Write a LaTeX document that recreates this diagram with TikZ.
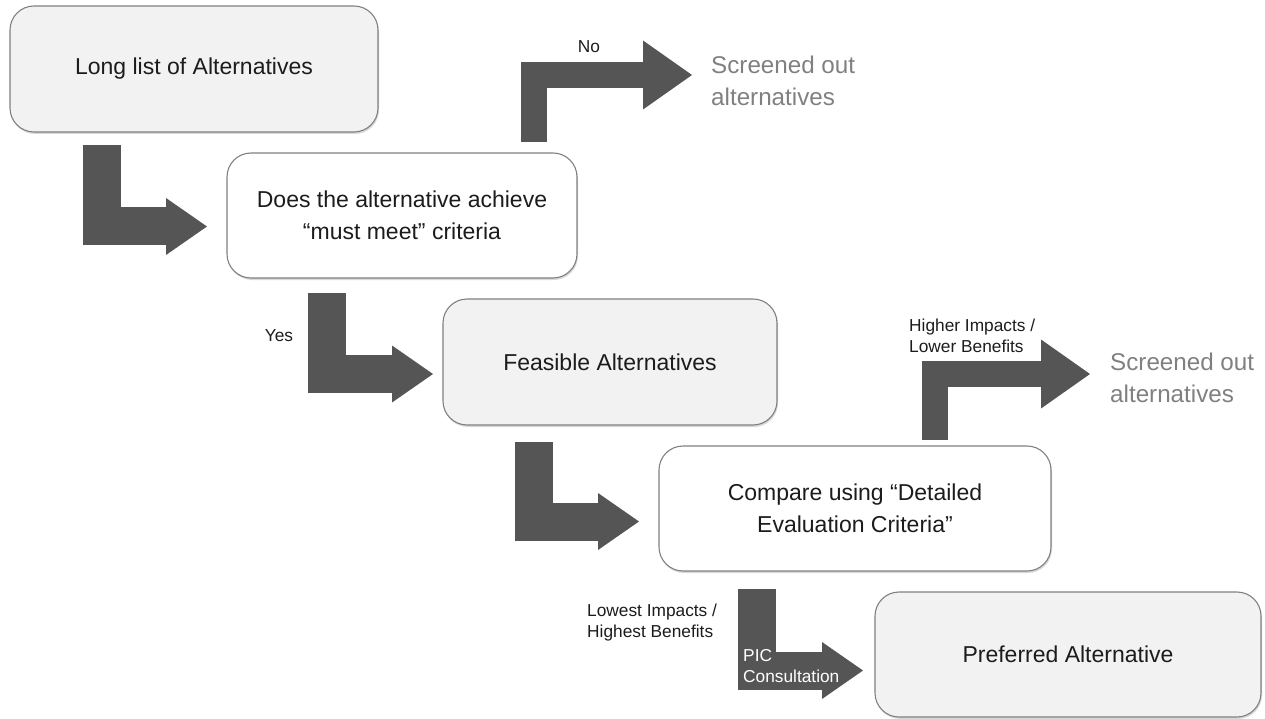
\documentclass[tikz,border=0pt]{standalone}
\usepackage{fontspec}
\setmainfont{Liberation Sans}
\usetikzlibrary{arrows.meta,shadows}

\definecolor{arrowgray}{RGB}{85,85,85}
\definecolor{boxline}{RGB}{128,128,128}
\definecolor{boxfill}{RGB}{242,242,242}
\definecolor{boxtext}{RGB}{28,28,28}
\definecolor{outtext}{RGB}{128,128,128}

\begin{document}
\begin{tikzpicture}[x=1pt,y=-1pt,
  stepbox/.style={draw=boxline, line width=1.1pt, rounded corners=24pt,
    align=center, text=boxtext, inner sep=0pt,
    font=\fontsize{23}{32}\selectfont,
    drop shadow={shadow xshift=1pt, shadow yshift=-2pt, opacity=0.3}},
  greybox/.style={stepbox, fill=boxfill},
  whitebox/.style={stepbox, fill=white},
  bigarrow/.style={draw=arrowgray, line width=38pt, line join=miter,
    -{Triangle[length=41pt, width=57pt, line width=0pt, fill=arrowgray]}},
  outarrow/.style={draw=arrowgray, line width=26pt, line join=miter,
    -{Triangle[length=49pt, width=69pt, line width=0pt, fill=arrowgray]}},
  smalllabel/.style={inner sep=0pt, text=boxtext, align=left,
    font=\fontsize{17.3}{21}\selectfont},
  outlabel/.style={inner sep=0pt, text=outtext, align=left, anchor=west,
    font=\fontsize{24.2}{32}\selectfont}]

\useasboundingbox (0,0) rectangle (1265,719);

% process boxes
\node[greybox,  minimum width=368pt, minimum height=126pt] (longlist)  at (194,69)    {Long list of Alternatives};
\node[whitebox, minimum width=350pt, minimum height=125pt] (mustmeet)  at (402,215.5) {Does the alternative achieve\\“must meet” criteria};
\node[greybox,  minimum width=334pt, minimum height=126pt] (feasible)  at (610,362)   {Feasible Alternatives};
\node[whitebox, minimum width=392pt, minimum height=125pt] (compare)   at (855,508.5) {Compare using “Detailed\\Evaluation Criteria”};
\node[greybox,  minimum width=386pt, minimum height=125pt] (preferred) at (1068,654.5) {Preferred Alternative};

% outcome texts
\node[outlabel] (out1) at (711,81)    {Screened out\\alternatives};
\node[outlabel] (out2) at (1110,377.5) {Screened out\\alternatives};

% arrow end points
\coordinate (a1s) at (101.5,145);  \coordinate (a1e) at (207,226.5);
\coordinate (a2s) at (327,293);    \coordinate (a2e) at (433,374);
\coordinate (a3s) at (534,442);    \coordinate (a3e) at (639,521.5);
\coordinate (a4s) at (757,589);    \coordinate (a4e) at (863,670.5);
\coordinate (o1s) at (534,142);    \coordinate (o1e) at (692,75);
\coordinate (o2s) at (934.5,440);  \coordinate (o2e) at (1090,374);

% bent block arrows
\draw[bigarrow] (a1s) |- (a1e);
\draw[bigarrow] (a2s) |- (a2e);
\draw[bigarrow] (a3s) |- (a3e);
\draw[bigarrow] (a4s) |- (a4e);
\draw[outarrow] (o1s) |- (o1e);
\draw[outarrow] (o2s) |- (o2e);

% arrow labels
\node[smalllabel] (no)  at (589,47)  {No};
\node[smalllabel] (yes) at (279,336) {Yes};
\node[smalllabel, anchor=west] (higher) at (909,336) {Higher Impacts /\\Lower Benefits};
\node[smalllabel, anchor=west] (lowest) at (587,623) {Lowest Impacts /\\Highest Benefits};
\node[smalllabel, anchor=west, text=white] (pic) at (743,666) {PIC\\Consultation};

\end{tikzpicture}
\end{document}
